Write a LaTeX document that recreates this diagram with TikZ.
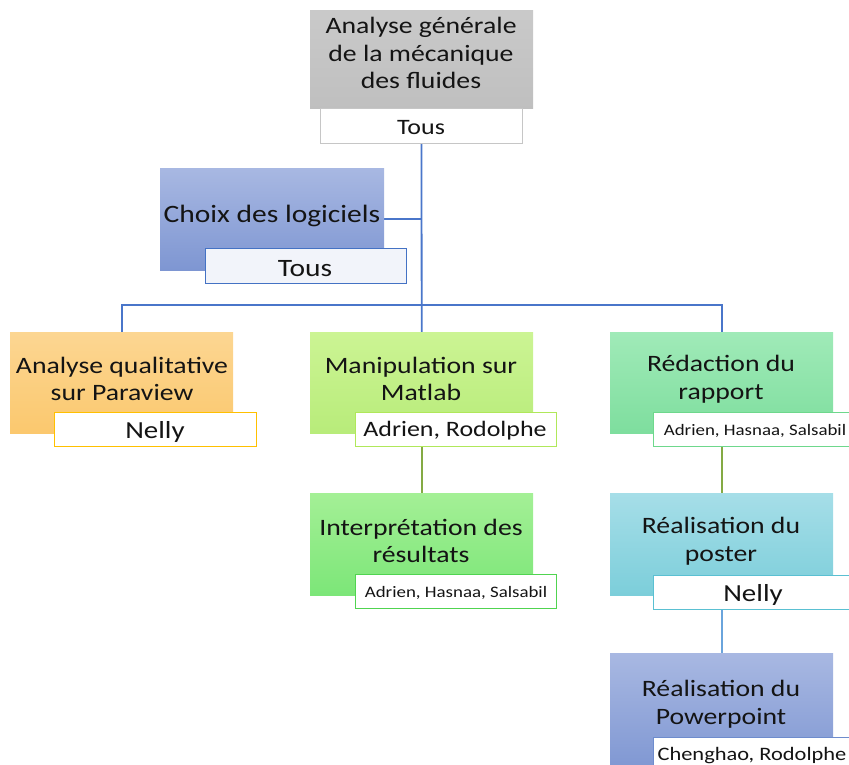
\documentclass[tikz,border=0pt]{standalone}
\usepackage{fontspec}
\setmainfont{Carlito}[FakeStretch=1.18]
\usetikzlibrary{backgrounds}
\definecolor{txt}{HTML}{141414}
\definecolor{trunkblue}{HTML}{4A76CA}
\definecolor{conngreen}{HTML}{84AA44}
\definecolor{connlblue}{HTML}{6AA4DC}
\tikzset{
  box/.style={anchor=north west, inner sep=0pt, draw=none},
  lab/.style={anchor=north west, inner sep=0pt, fill=white, line width=1pt, minimum height=34pt},
  main/.style={align=center, text=txt, font=\fontsize{23.5pt}{27.5pt}\selectfont, inner sep=0pt},
  conn/.style={line width=1.8pt},
}
\begin{document}
\begin{tikzpicture}[x=1pt,y=-1pt]
\useasboundingbox (0,0) rectangle (849,765);
\clip (0,0) rectangle (849,765);
% boxes
\node[box, minimum width=223pt, minimum height=98pt, top color=gray!42, bottom color=gray!50] (top) at (310,10) {};
\node[box, minimum width=224pt, minimum height=102pt, top color={rgb,255:red,168;green,184;blue,226}, bottom color={rgb,255:red,126;green,150;blue,210}] (choix) at (160,168) {};
\node[box, minimum width=223pt, minimum height=101pt, top color={rgb,255:red,252;green,214;blue,146}, bottom color={rgb,255:red,251;green,200;blue,110}] (aq) at (10,332) {};
\node[box, minimum width=223pt, minimum height=101pt, top color={rgb,255:red,204;green,244;blue,148}, bottom color={rgb,255:red,184;green,236;blue,122}] (manip) at (310,332) {};
\node[box, minimum width=223pt, minimum height=101pt, top color={rgb,255:red,160;green,234;blue,184}, bottom color={rgb,255:red,126;green,222;blue,158}] (redac) at (610,332) {};
\node[box, minimum width=223pt, minimum height=102pt, top color={rgb,255:red,164;green,240;blue,150}, bottom color={rgb,255:red,124;green,230;blue,120}] (interp) at (310,493) {};
\node[box, minimum width=223pt, minimum height=102pt, top color={rgb,255:red,166;green,222;blue,232}, bottom color={rgb,255:red,124;green,206;blue,218}] (poster) at (610,493) {};
\node[box, minimum width=223pt, minimum height=120pt, top color={rgb,255:red,168;green,184;blue,226}, bottom color={rgb,255:red,126;green,150;blue,210}] (ppt) at (610,653) {};
% texts
\node[main] (ttop) at (421,53) {Analyse générale\\de la mécanique\\des fluides};
\node[main, font=\fontsize{25pt}{29pt}\selectfont] (tchoix) at (272,216) {Choix des logiciels};
\node[main] (taq) at (122,379) {Analyse qualitative\\sur Paraview};
\node[main] (tmanip) at (421,379) {Manipulation sur\\Matlab};
\node[main] (tredac) at (721,379) {Rédaction du\\rapport};
\node[main] (tinterp) at (421,541) {Interprétation des\\résultats};
\node[main] (tposter) at (721,541) {Réalisation du\\poster};
\node[main] (tppt) at (721,704) {Réalisation du\\Powerpoint};
% labels
\node[lab, draw=gray!45, minimum width=202pt, minimum height=35pt] (ltop) at (320,108) {};
\node[text=txt, font=\fontsize{22pt}{26pt}\selectfont] (xltop) at (421,128) {Tous};
\node[lab, draw={rgb,255:red,68;green,114;blue,196}, fill={rgb,255:red,242;green,244;blue,250}, minimum width=201pt, minimum height=35pt] (lchoix) at (205,248) {};
\node[text=txt, font=\fontsize{25pt}{29pt}\selectfont] (xlchoix) at (305,269) {Tous};
\node[lab, draw={rgb,255:red,255;green,192;blue,0}, minimum width=202pt] (laq) at (54,412) {};
\node[text=txt, font=\fontsize{24.5pt}{29pt}\selectfont] (xlaq) at (155,432) {Nelly};
\node[lab, draw={rgb,255:red,176;green,232;blue,90}, minimum width=201pt] (lmanip) at (355,412) {};
\node[text=txt, font=\fontsize{22pt}{26pt}\selectfont] (xlmanip) at (455,431) {Adrien, Rodolphe};
\node[lab, draw={rgb,255:red,110;green,216;blue,140}, minimum width=202pt] (lredac) at (653,412) {};
\node[text=txt, font=\fontsize{16pt}{19pt}\selectfont] (xlredac) at (755,431) {Adrien, Hasnaa, Salsabil};
\node[lab, draw={rgb,255:red,80;green,212;blue,80}, minimum width=201pt] (linterp) at (355,574) {};
\node[text=txt, font=\fontsize{16pt}{19pt}\selectfont] (xlinterp) at (456,593) {Adrien, Hasnaa, Salsabil};
\node[lab, draw={rgb,255:red,90;green,192;blue,210}, minimum width=202pt] (lposter) at (653,575) {};
\node[text=txt, font=\fontsize{24.5pt}{29pt}\selectfont] (xlposter) at (753,595) {Nelly};
\node[lab, draw={rgb,255:red,110;green,140;blue,205}, minimum width=202pt] (lppt) at (653,737) {};
\node[text=txt, font=\fontsize{19pt}{22pt}\selectfont] (xlppt) at (752,756) {Chenghao, Rodolphe};
% connectors
\coordinate (bus) at (421,305);
\begin{scope}[on background layer]
\draw[conn, trunkblue] (ltop.south) -- (manip.north);
\draw[conn, trunkblue] (choix.east) -- (choix.east -| ltop.south);
\draw[conn, trunkblue] (aq.north) |- (bus) -| (redac.north);
\draw[conn, conngreen] (manip.south) -- (interp.north);
\draw[conn, conngreen] (redac.south) -- (poster.north);
\draw[conn, connlblue] (poster.south) -- (ppt.north);
\end{scope}
\end{tikzpicture}
\end{document}
